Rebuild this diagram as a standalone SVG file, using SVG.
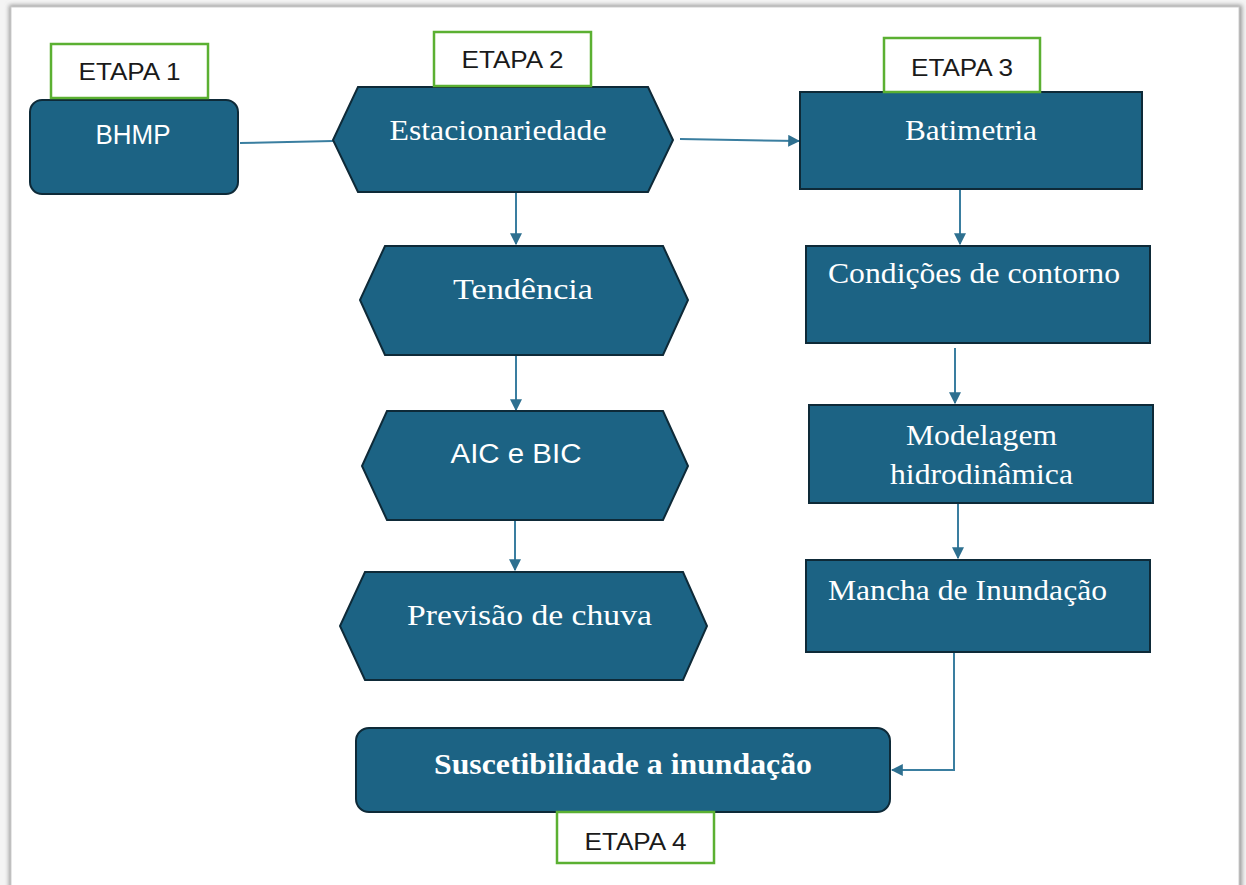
<svg xmlns="http://www.w3.org/2000/svg" width="1246" height="885" viewBox="0 0 1246 885">
<defs>
<marker id="ah" viewBox="0 0 10 10" refX="9" refY="5" markerWidth="6" markerHeight="6" orient="auto" markerUnits="strokeWidth">
<path d="M0,0 L10,5 L0,10 z" fill="#2e7090"/>
</marker>
<filter id="sh" x="-5%" y="-5%" width="110%" height="110%">
<feGaussianBlur stdDeviation="2"/>
</filter>
</defs>
<style>
.node{fill:#1c6384;stroke:#0e2a38;stroke-width:2}
.etapa{fill:#ffffff;stroke:#5bb032;stroke-width:2.5}
.et{font-family:"Liberation Sans",Arial,sans-serif;font-size:24px;fill:#1a1a1a;text-anchor:middle}
.serif{font-family:"Liberation Serif","Times New Roman",serif;font-size:29px;fill:#ffffff;text-anchor:middle}
.sans{font-family:"Liberation Sans",Arial,sans-serif;font-size:27px;fill:#ffffff;text-anchor:middle}
.conn{fill:none;stroke:#3a7ea0;stroke-width:2}
</style>
<rect x="0" y="0" width="1246" height="885" fill="#f4f4f4"/>
<rect x="9" y="5" width="1233" height="890" fill="#9a9a9a" filter="url(#sh)"/>
<rect x="11" y="7" width="1228" height="890" fill="#ffffff" stroke="#cfcfcf" stroke-width="1"/>

<g id="connectors">
<line class="conn" x1="240" y1="143" x2="333" y2="141"/>
<line class="conn" x1="680" y1="139" x2="799" y2="141" marker-end="url(#ah)"/>
<line class="conn" x1="516" y1="193" x2="516" y2="244" marker-end="url(#ah)"/>
<line class="conn" x1="516" y1="356" x2="516" y2="410" marker-end="url(#ah)"/>
<line class="conn" x1="515" y1="521" x2="515" y2="570" marker-end="url(#ah)"/>
<line class="conn" x1="960" y1="190" x2="960" y2="244" marker-end="url(#ah)"/>
<line class="conn" x1="955" y1="348" x2="955" y2="403" marker-end="url(#ah)"/>
<line class="conn" x1="958" y1="504" x2="958" y2="558" marker-end="url(#ah)"/>
<polyline class="conn" points="954,653 954,770 892,770" marker-end="url(#ah)"/>
</g>

<g id="bhmp">
<rect class="node" x="30" y="100" width="208" height="94" rx="12"/>
<text class="sans" x="133" y="144" textLength="75" lengthAdjust="spacingAndGlyphs">BHMP</text>
</g>
<g id="etapa1">
<rect class="etapa" x="51" y="44" width="157" height="54"/>
<text class="et" x="129.5" y="80" textLength="102" lengthAdjust="spacingAndGlyphs">ETAPA 1</text>
</g>

<g id="estacionariedade">
<polygon class="node" points="358,87 648,87 673,140 648,192 358,192 333,140"/>
<text class="serif" x="498" y="140" textLength="217" lengthAdjust="spacingAndGlyphs">Estacionariedade</text>
</g>
<g id="etapa2">
<rect class="etapa" x="434" y="32" width="157" height="54"/>
<text class="et" x="512.5" y="68" textLength="102" lengthAdjust="spacingAndGlyphs">ETAPA 2</text>
</g>

<g id="batimetria">
<rect class="node" x="800" y="92" width="342" height="97"/>
<text class="serif" x="971" y="140" textLength="132" lengthAdjust="spacingAndGlyphs">Batimetria</text>
</g>
<g id="etapa3">
<rect class="etapa" x="884" y="38" width="156" height="54"/>
<text class="et" x="962" y="76" textLength="102" lengthAdjust="spacingAndGlyphs">ETAPA 3</text>
</g>

<g id="tendencia">
<polygon class="node" points="385,246 663,246 688,300 663,355 385,355 360,300"/>
<text class="serif" x="523" y="299" textLength="140" lengthAdjust="spacingAndGlyphs">Tendência</text>
</g>

<g id="aic-bic">
<polygon class="node" points="387,411 663,411 688,466 663,520 387,520 362,466"/>
<text class="sans" x="516" y="463" textLength="131" lengthAdjust="spacingAndGlyphs">AIC e BIC</text>
</g>

<g id="previsao">
<polygon class="node" points="365,572 683,572 707,626 683,680 365,680 340,626"/>
<text class="serif" x="529.5" y="625" textLength="245" lengthAdjust="spacingAndGlyphs">Previsão de chuva</text>
</g>

<g id="condicoes">
<rect class="node" x="806" y="246" width="344" height="97"/>
<text class="serif" x="974" y="283" textLength="292" lengthAdjust="spacingAndGlyphs">Condições de contorno</text>
</g>

<g id="modelagem">
<rect class="node" x="809" y="405" width="344" height="98"/>
<text class="serif" x="981.5" y="445" textLength="151" lengthAdjust="spacingAndGlyphs">Modelagem</text>
<text class="serif" x="981.5" y="484" textLength="183" lengthAdjust="spacingAndGlyphs">hidrodinâmica</text>
</g>

<g id="mancha">
<rect class="node" x="806" y="560" width="344" height="92"/>
<text class="serif" x="967.5" y="600" textLength="279" lengthAdjust="spacingAndGlyphs">Mancha de Inundação</text>
</g>

<g id="suscetibilidade">
<rect class="node" x="356" y="728" width="534" height="84" rx="13"/>
<text class="serif" x="623" y="774" font-weight="bold" textLength="378" lengthAdjust="spacingAndGlyphs">Suscetibilidade a inundação</text>
</g>
<g id="etapa4">
<rect class="etapa" x="557" y="812" width="157" height="51"/>
<text class="et" x="635.5" y="850" textLength="102" lengthAdjust="spacingAndGlyphs">ETAPA 4</text>
</g>
</svg>
